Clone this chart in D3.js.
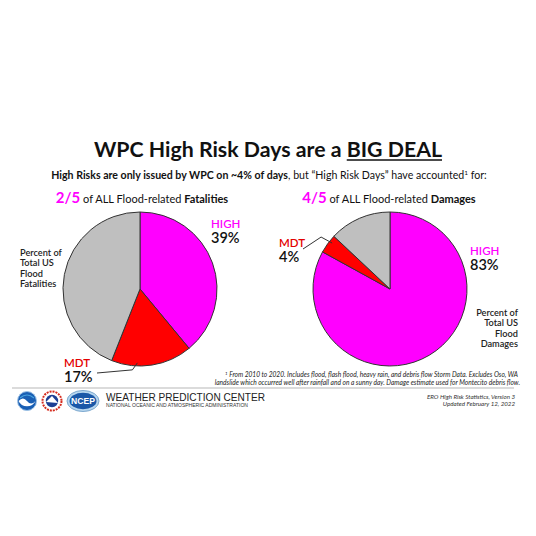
<!DOCTYPE html>
<html>
<head>
<meta charset="utf-8">
<script src="https://cdn.jsdelivr.net/npm/d3@7"></script>
<style>
  html, body { margin: 0; padding: 0; background: #fff; }
  svg { display: block; }
</style>
</head>
<body>
<svg id="chart" width="536" height="536"></svg>
<script>
// Risk categories and their shares (percent) of flood fatalities and damages, 2010-2020
const categories = ["HIGH", "MDT", "Other"];
const fatalityShares = [39, 17, 44];
const damageShares = [83, 4, 13];
const sliceColors = ["#ff00ff", "#ff0000", "#bfbfbf"];
const labelColors = ["#ff00ff", "#e30000", null];

const svg = d3.select("#chart");
const FONT = "Lato, 'Open Sans', sans-serif";
const ink = "#111";

// ---- Title ----
const title = svg.append("text")
  .attr("x", 268).attr("y", 157)
  .attr("text-anchor", "middle")
  .attr("font-family", FONT).attr("font-weight", 700)
  .attr("font-size", 21.3).attr("fill", ink);
title.append("tspan").text("WPC High Risk Days are a ");
const big = title.append("tspan").text("BIG DEAL");
{
  const node = title.node();
  const full = node.getComputedTextLength();
  const bigLen = big.node().getComputedTextLength();
  const left = 268 + full / 2 - bigLen;
  svg.append("line")
    .attr("x1", left).attr("x2", left + bigLen)
    .attr("y1", 160).attr("y2", 160)
    .attr("stroke", ink).attr("stroke-width", 1.6);
}

// ---- Subtitle ----
const sub = svg.append("text")
  .attr("x", 269).attr("y", 179)
  .attr("text-anchor", "middle")
  .attr("font-family", FONT).attr("font-size", 10.6).attr("fill", ink);
sub.append("tspan").attr("font-weight", 700).text("High Risks are only issued by WPC on ~4% of days");
sub.append("tspan").text(", but \u201CHigh Risk Days\u201D have accounted");
sub.append("tspan").attr("font-size", 6.5).attr("dy", -4).text("1");
sub.append("tspan").attr("dy", 4).text(" for:");

// ---- Section headings ----
function heading(cx, frac, word) {
  const t = svg.append("text")
    .attr("x", cx).attr("y", 203)
    .attr("text-anchor", "middle")
    .attr("font-family", FONT).attr("font-size", 11).attr("fill", ink);
  t.append("tspan").attr("font-size", 15).attr("font-weight", 700)
    .attr("fill", "#ff00ff").text(frac);
  t.append("tspan").text(" of ALL Flood-related ");
  t.append("tspan").attr("font-weight", 700).text(word);
}
heading(142, "2/5", "Fatalities");
heading(389, "4/5", "Damages");

// ---- Pies ----
const radius = 77;
const pie = d3.pie().sort(null).value(d => d);
const arc = d3.arc().innerRadius(0).outerRadius(radius);

function drawPie(cx, cy, values) {
  const g = svg.append("g").attr("transform", `translate(${cx},${cy})`);
  const arcs = pie(values);
  g.selectAll("path").data(arcs).join("path")
    .attr("d", arc)
    .attr("fill", (d, i) => sliceColors[i])
    .attr("stroke", "#333").attr("stroke-width", 1);
  return arcs;
}

function pointOnSlice(cx, cy, d, frac, rFrac) {
  const a = d.startAngle + (d.endAngle - d.startAngle) * frac;
  const r = radius * rFrac;
  return [cx + r * Math.sin(a), cy - r * Math.cos(a)];
}

function valueLabel(x, y, name, value, color, anchor) {
  svg.append("text").attr("x", x).attr("y", y)
    .attr("text-anchor", anchor || "start")
    .attr("font-family", FONT).attr("font-size", 11.5).attr("font-weight", 600)
    .attr("fill", color).text(name);
  svg.append("text").attr("x", x).attr("y", y + 15)
    .attr("text-anchor", anchor || "start")
    .attr("font-family", FONT).attr("font-size", 14.5).attr("font-weight", 600)
    .attr("fill", ink).text(value + "%");
}

function noteBlock(x, y, lines, anchor) {
  const t = svg.append("text").attr("x", x).attr("y", y)
    .attr("text-anchor", anchor)
    .attr("font-family", FONT).attr("font-size", 9.2).attr("font-weight", 600)
    .attr("fill", "#222");
  lines.forEach((l, i) => t.append("tspan").attr("x", x).attr("dy", i ? 10.4 : 0).text(l));
}

// Fatalities pie
const leftC = [140, 289];
const leftArcs = drawPie(leftC[0], leftC[1], fatalityShares);
valueLabel(211, 228, categories[0], fatalityShares[0], labelColors[0]);
valueLabel(64, 367, categories[1], fatalityShares[1], labelColors[1]);
{
  const tip = pointOnSlice(leftC[0], leftC[1], leftArcs[1], 0.68, 0.96);
  svg.append("path")
    .attr("d", d3.line()([tip, [tip[0] - 5, tip[1] + 7], [97, 373]]))
    .attr("fill", "none").attr("stroke", "#333").attr("stroke-width", 1);
}
noteBlock(20, 256, ["Percent of", "Total US", "Flood", "Fatalities"], "start");

// Damages pie
const rightC = [390, 289];
const rightArcs = drawPie(rightC[0], rightC[1], damageShares);
valueLabel(470, 255, categories[0], damageShares[0], labelColors[0]);
valueLabel(279, 247, categories[1], damageShares[1], labelColors[1]);
{
  const tip = pointOnSlice(rightC[0], rightC[1], rightArcs[1], 0.67, 0.96);
  svg.append("path")
    .attr("d", d3.line()([tip, [tip[0] - 11, tip[1] - 6], [303, 249]]))
    .attr("fill", "none").attr("stroke", "#333").attr("stroke-width", 1);
}
noteBlock(518, 316, ["Percent of", "Total US", "Flood", "Damages"], "end");

// ---- Footnote ----
const foot = svg.append("g")
  .attr("font-family", FONT).attr("font-style", "italic")
  .attr("font-size", 6.6).attr("fill", "#222").attr("text-anchor", "end");
const f1 = foot.append("text").attr("x", 518).attr("y", 377);
f1.append("tspan").attr("font-size", 4.5).attr("dy", -2.5).text("1");
f1.append("tspan").attr("dy", 2.5).text(" From 2010 to 2020. Includes flood, flash flood, heavy rain, and debris flow Storm Data. Excludes Oso, WA");
foot.append("text").attr("x", 520).attr("y", 385)
  .text("landslide which occurred well after rainfall and on a sunny day. Damage estimate used for Montecito debris flow.");

// ---- Separator ----
svg.append("line").attr("x1", 12).attr("x2", 514).attr("y1", 388).attr("y2", 388)
  .attr("stroke", "#cfcfcf").attr("stroke-width", 1.5);

// ---- Agency marks ----
const logos = svg.append("g");
// NOAA
logos.append("circle").attr("cx", 27).attr("cy", 401).attr("r", 9.5).attr("fill", "#1a5fb4");
logos.append("path").attr("d", "M18.5,401 Q23,396 27,401 Q31,406 35.5,401 A9.5,9.5 0 0 1 18.5,401 Z")
  .attr("fill", "#ffffff");
logos.append("circle").attr("cx", 27).attr("cy", 401).attr("r", 9.5).attr("fill", "none")
  .attr("stroke", "#9ec3e6").attr("stroke-width", 1);
logos.append("path").attr("d", "M20,398 Q27,392 34,398").attr("fill", "none")
  .attr("stroke", "#4aa3df").attr("stroke-width", 1.2);
// NWS
logos.append("circle").attr("cx", 52).attr("cy", 401).attr("r", 9.5).attr("fill", "#fff")
  .attr("stroke", "#d52b1e").attr("stroke-width", 2).attr("stroke-dasharray", "2,1");
logos.append("circle").attr("cx", 52).attr("cy", 401).attr("r", 6.2).attr("fill", "#1c3f94");
logos.append("path").attr("d", "M46,402 L52,396 L58,403 Z").attr("fill", "#fff");
// NCEP
logos.append("ellipse").attr("cx", 83).attr("cy", 401).attr("rx", 16).attr("ry", 10.5)
  .attr("fill", "#b8d7ef").attr("stroke", "#7ea9cf").attr("stroke-width", 1);
logos.append("ellipse").attr("cx", 83).attr("cy", 401).attr("rx", 13.5).attr("ry", 8.2)
  .attr("fill", "#1b58a8");
logos.append("text").attr("x", 83).attr("y", 404.3).attr("text-anchor", "middle")
  .attr("font-family", "Liberation Sans, Arial, sans-serif").attr("font-weight", 700)
  .attr("font-size", 8.6).attr("fill", "#fff").text("NCEP");

svg.append("text").attr("x", 106).attr("y", 401)
  .attr("font-family", "Liberation Sans, Arial, sans-serif").attr("font-size", 11.5)
  .attr("textLength", 159).attr("lengthAdjust", "spacingAndGlyphs")
  .attr("fill", "#222").text("WEATHER PREDICTION CENTER");
svg.append("text").attr("x", 106).attr("y", 407)
  .attr("font-family", "Liberation Sans, Arial, sans-serif").attr("font-size", 4.6)
  .attr("textLength", 142).attr("lengthAdjust", "spacingAndGlyphs")
  .attr("fill", "#333").text("NATIONAL OCEANIC AND ATMOSPHERIC ADMINISTRATION");

// ---- Version info ----
const ver = svg.append("g").attr("font-family", FONT).attr("font-style", "italic")
  .attr("font-size", 6.2).attr("fill", "#333").attr("text-anchor", "end");
ver.append("text").attr("x", 515).attr("y", 399).text("ERO High Risk Statistics, Version 3");
ver.append("text").attr("x", 515).attr("y", 406).text("Updated February 12, 2022");
</script>
</body>
</html>
